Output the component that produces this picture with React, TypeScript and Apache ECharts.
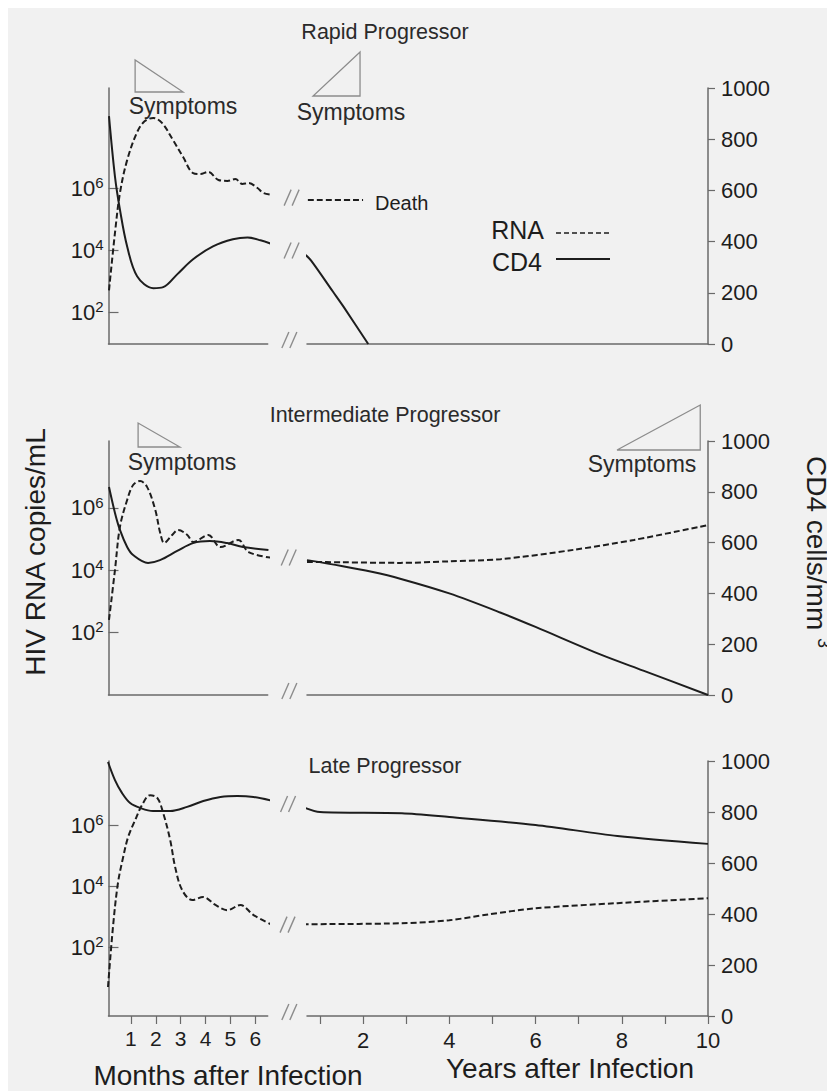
import { useEffect, useRef } from "react";
import * as echarts from "echarts";

// ---------------- Tick values / labels ----------------
const monthTicks = [1, 2, 3, 4, 5, 6];
const yearTicks = [1, 2, 3, 4, 5, 6, 7, 8, 9, 10];
const yearTickLabels = [2, 4, 6, 8, 10];
const rnaExponentTicks = [2, 4, 6]; // 10^2, 10^4, 10^6 copies/mL
const cd4Min = 0;
const cd4Max = 1000;
const cd4Step = 200;

const panelTitles = ["Rapid Progressor", "Intermediate Progressor", "Late Progressor"];

// ---------------- Rapid progressor ----------------
// months after infection (left part); RNA as log10 copies/mL, CD4 as cells/mm3
const rapidRnaMonth = [0.12, 0.36, 0.56, 0.85, 1.25, 1.55, 1.9, 2.25, 2.69, 3.1, 3.5, 3.79, 4.11, 4.52, 4.88, 5.2, 5.48, 5.73, 6.09, 6.33, 6.81];
const rapidRnaMonthLog = [2.7, 4.55, 5.84, 6.9, 7.8, 8.15, 8.26, 8.1, 7.55, 7.0, 6.48, 6.45, 6.52, 6.26, 6.23, 6.29, 6.13, 6.16, 6.0, 5.84, 5.77];
const rapidCd4Month = [0.12, 0.36, 0.56, 0.85, 1.25, 1.9, 2.3, 2.86, 3.5, 4.3, 5.1, 5.69, 6.21, 6.93];
const rapidCd4MonthCells = [890, 654, 525, 381, 265, 218, 222, 272, 331, 381, 409, 416, 405, 381];
// years after infection (right part)
const rapidRnaYear = [0.72, 2.0];
const rapidRnaYearLog = [5.61, 5.61];
const rapidCd4Year = [0.65, 0.8, 1.3, 1.55, 2.12];
const rapidCd4YearCells = [350, 325, 205, 145, 0];

// ---------------- Intermediate progressor ----------------
const interRnaMonth = [0.12, 0.36, 0.56, 0.85, 1.09, 1.37, 1.65, 1.98, 2.18, 2.34, 2.66, 2.9, 3.27, 3.51, 4.11, 4.6, 5.32, 5.73, 6.69];
const interRnaMonthLog = [2.39, 4.0, 5.39, 6.26, 6.74, 6.87, 6.68, 5.94, 5.19, 4.87, 5.13, 5.29, 5.13, 4.9, 5.13, 4.74, 4.97, 4.58, 4.39];
const interCd4Month = [0.12, 0.36, 0.56, 0.85, 1.09, 1.69, 2.17, 2.86, 3.5, 4.18, 4.87, 5.51, 6.53];
const interCd4MonthCells = [819, 717, 650, 583, 551, 520, 531, 567, 598, 606, 598, 583, 571];
const interRnaYear = [0.7, 1.5, 2.86, 4.0, 5.19, 6.88, 8.28, 10];
const interRnaYearLog = [4.26, 4.25, 4.23, 4.28, 4.35, 4.65, 4.97, 5.45];
const interCd4Year = [0.7, 1.5, 2.2, 2.86, 4.0, 5.18, 6.0, 7.5, 8.5, 10];
const interCd4YearCells = [531, 508, 485, 458, 400, 325, 268, 160, 96, 0];

// ---------------- Late progressor ----------------
const lateRnaMonth = [0.08, 0.28, 0.48, 0.69, 0.89, 1.17, 1.45, 1.77, 2.06, 2.3, 2.58, 2.78, 3.06, 3.47, 3.91, 4.4, 4.88, 5.4, 5.93, 6.69];
const lateRnaMonthLog = [0.69, 2.66, 4.1, 4.95, 5.61, 6.16, 6.66, 6.98, 6.89, 6.39, 5.51, 4.62, 3.87, 3.54, 3.64, 3.38, 3.21, 3.38, 3.05, 2.72];
const lateCd4Month = [0.08, 0.36, 0.64, 0.97, 1.37, 1.89, 2.58, 3.26, 3.91, 4.6, 5.28, 5.93, 6.73];
const lateCd4MonthCells = [996, 925, 875, 835, 816, 804, 804, 820, 843, 859, 863, 859, 843];
const lateRnaYear = [0.6, 2.9, 4.0, 4.9, 6.0, 7.9, 10];
const lateRnaYearLog = [2.75, 2.78, 2.88, 3.07, 3.27, 3.44, 3.6];
const lateCd4Year = [0.6, 1.0, 2.9, 4.0, 6.0, 7.9, 10];
const lateCd4YearCells = [820, 800, 795, 780, 749, 706, 675];

// Symptom periods (in axis units) per panel
const symptomPeriods = [
  { panel: 0, part: "month", from: 1.17, to: 3.1, shape: "fall" },
  { panel: 0, part: "year", from: 0.84, to: 1.93, shape: "rise" },
  { panel: 1, part: "month", from: 1.29, to: 2.97, shape: "fall" },
  { panel: 1, part: "year", from: 7.89, to: 9.82, shape: "rise" },
];

// ---------------- Layout (pixels) ----------------
const FONT = '"Liberation Sans", Arial, Helvetica, sans-serif';
const INK = "#1d1d1d";
const AXIS_C = "#6a6a6a";
const FAINT = "#8c8c8c";
const BG = "#f1f1f1";

const PANEL_LAYOUT = [
  { top: 80, height: 256, rnaMin: 0.968, rnaMax: 9.226, titleY: 24 },
  { top: 433, height: 254, rnaMin: -0.03, rnaMax: 8.16, titleY: 407 },
  { top: 753, height: 255, rnaMin: -0.26, rnaMax: 8.1, titleY: 758 },
];
const LEFT_PART = { left: 100.5, width: 159.2, min: 0.1, max: 6.5 };
const RIGHT_PART = { left: 299, width: 401, min: 0.7, max: 10 };
const SYMPTOM_LAYOUT = [
  { yTop: 52, yBottom: 84, labelX: 175, labelY: 98 },
  { yTop: 44, yBottom: 88, labelX: 343, labelY: 104 },
  { yTop: 415, yBottom: 439, labelX: 174, labelY: 454 },
  { yTop: 397, yBottom: 442, labelX: 634, labelY: 456 },
];

const panels = [
  {
    rnaM: [rapidRnaMonth, rapidRnaMonthLog], cd4M: [rapidCd4Month, rapidCd4MonthCells],
    rnaY: [rapidRnaYear, rapidRnaYearLog], cd4Y: [rapidCd4Year, rapidCd4YearCells],
    breaks: ["rna", "cd4"],
  },
  {
    rnaM: [interRnaMonth, interRnaMonthLog], cd4M: [interCd4Month, interCd4MonthCells],
    rnaY: [interRnaYear, interRnaYearLog], cd4Y: [interCd4Year, interCd4YearCells],
    breaks: ["both"],
  },
  {
    rnaM: [lateRnaMonth, lateRnaMonthLog], cd4M: [lateCd4Month, lateCd4MonthCells],
    rnaY: [lateRnaYear, lateRnaYearLog], cd4Y: [lateCd4Year, lateCd4YearCells],
    breaks: ["rna", "cd4"],
  },
];

const pairs = (xs: number[], ys: number[]) => xs.map((x, i) => [x, ys[i]]);

function buildOption() {
  const grid: any[] = [];
  const xAxis: any[] = [];
  const yAxis: any[] = [];
  const series: any[] = [];
  const textStyle = { fontFamily: FONT, color: INK };

  panels.forEach((pd, p) => {
    const L = PANEL_LAYOUT[p];
    const isLast = p === panels.length - 1;
    grid.push({ left: LEFT_PART.left, width: LEFT_PART.width, top: L.top, height: L.height, outerBoundsMode: "none" });
    grid.push({ left: RIGHT_PART.left, width: RIGHT_PART.width, top: L.top, height: L.height, outerBoundsMode: "none" });

    const axisLine = { show: true, onZero: false, lineStyle: { color: AXIS_C, width: 1.5 } };
    xAxis.push({
      type: "value", gridIndex: 2 * p, min: LEFT_PART.min, max: LEFT_PART.max,
      axisLine,
      axisTick: { show: isLast, customValues: monthTicks, length: 8, lineStyle: { color: AXIS_C, width: 1.2 } },
      axisLabel: { show: isLast, customValues: monthTicks, margin: 12, fontSize: 21, ...textStyle },
      splitLine: { show: false },
    });
    xAxis.push({
      type: "value", gridIndex: 2 * p + 1, min: RIGHT_PART.min, max: RIGHT_PART.max,
      axisLine,
      axisTick: { show: isLast, customValues: yearTicks, length: 8, lineStyle: { color: AXIS_C, width: 1.2 } },
      axisLabel: { show: isLast, customValues: yearTickLabels, margin: 13, fontSize: 22, ...textStyle },
      splitLine: { show: false },
    });

    // left grid: RNA (shown, left), CD4 (hidden)
    yAxis.push({
      type: "value", gridIndex: 2 * p, min: L.rnaMin, max: L.rnaMax, position: "left",
      axisLine,
      axisTick: { show: true, inside: true, length: 10, customValues: rnaExponentTicks, lineStyle: { color: AXIS_C, width: 1.2 } },
      axisLabel: {
        customValues: rnaExponentTicks, margin: 5,
        formatter: (v: number) => `{b|10}{s|${v}}`,
        rich: {
          b: { fontSize: 22, fontFamily: FONT, color: INK },
          s: { fontSize: 15, fontFamily: FONT, color: INK, padding: [0, 0, 11, 0] },
        },
      },
      splitLine: { show: false },
    });
    yAxis.push({ type: "value", gridIndex: 2 * p, min: cd4Min, max: cd4Max, show: false });
    // right grid: RNA (hidden), CD4 (shown, right)
    yAxis.push({ type: "value", gridIndex: 2 * p + 1, min: L.rnaMin, max: L.rnaMax, show: false });
    yAxis.push({
      type: "value", gridIndex: 2 * p + 1, min: cd4Min, max: cd4Max, interval: cd4Step, position: "right",
      axisLine,
      axisTick: { show: true, length: 7, lineStyle: { color: AXIS_C, width: 1.2 } },
      axisLabel: { margin: 13, fontSize: 22, formatter: (v: number) => String(v), ...textStyle },
      splitLine: { show: false },
    });

    const line = (xi: number, yi: number, data: number[][], dashed: boolean, smooth: number) => ({
      type: "line", xAxisIndex: xi, yAxisIndex: yi, data,
      smooth, symbol: "none", showSymbol: false, clip: false, silent: true, z: 3,
      lineStyle: { color: INK, width: 2, type: dashed ? [6, 3] : "solid" },
    });
    series.push(line(2 * p, 4 * p, pairs(pd.rnaM[0], pd.rnaM[1]), true, 0.35));
    series.push(line(2 * p, 4 * p + 1, pairs(pd.cd4M[0], pd.cd4M[1]), false, 0.35));
    series.push(line(2 * p + 1, 4 * p + 2, pairs(pd.rnaY[0], pd.rnaY[1]), true, 0.3));
    series.push(line(2 * p + 1, 4 * p + 3, pairs(pd.cd4Y[0], pd.cd4Y[1]), false, 0.3));
  });

  return {
    animation: false,
    backgroundColor: BG,
    grid, xAxis, yAxis, series,
  };
}

function text(x: number, y: number, t: string, fontSize: number, extra: any = {}) {
  return {
    type: "text", x, y, silent: true, z: 10, ...extra,
    style: {
      text: t, fontSize, fontFamily: FONT, fill: INK,
      align: "center", verticalAlign: "middle", ...(extra.style || {}),
    },
  };
}

function breakMark(cx: number, cy: number) {
  return [-4, 4].map((dx) => ({
    type: "line", silent: true, z: 10,
    shape: { x1: cx + dx - 3.5, y1: cy + 8, x2: cx + dx + 3.5, y2: cy - 8 },
    style: { stroke: FAINT, lineWidth: 1.4 },
  }));
}

function buildGraphics(chart: echarts.ECharts) {
  const g: any[] = [];
  const toPx = (seriesIndex: number, pt: number[]) => chart.convertToPixel({ seriesIndex }, pt) as number[];

  // Titles
  panelTitles.forEach((t, p) => g.push(text(LEFT_PART.left + 276.5, PANEL_LAYOUT[p].titleY, t, 21.5, { style: { fill: "#2a2a2a" } })));

  // Break marks
  panels.forEach((pd, p) => {
    const L = PANEL_LAYOUT[p];
    const gapX = (LEFT_PART.left + LEFT_PART.width + RIGHT_PART.left) / 2;
    g.push(...breakMark(gapX + 2, L.top + L.height - 4));
    const markFor = (key: string) => {
      const arrs = key === "rna" ? [pd.rnaM, pd.rnaY, 0, 2] : [pd.cd4M, pd.cd4Y, 1, 3];
      const [mArr, yArr, si, sj] = arrs as any;
      const a = toPx(4 * p + si, [mArr[0][mArr[0].length - 1], mArr[1][mArr[1].length - 1]]);
      const b = toPx(4 * p + sj, [yArr[0][0], yArr[1][0]]);
      return [(a[0] + b[0]) / 2, (a[1] + b[1]) / 2];
    };
    pd.breaks.forEach((k) => {
      if (k === "both") {
        const r = markFor("rna");
        const c = markFor("cd4");
        g.push(...breakMark((r[0] + c[0]) / 2, (r[1] + c[1]) / 2));
      } else {
        const m = markFor(k);
        g.push(...breakMark(m[0], m[1]));
      }
    });
  });

  // Symptom triangles
  symptomPeriods.forEach((s, i) => {
    const lay = SYMPTOM_LAYOUT[i];
    const xi = 2 * s.panel + (s.part === "month" ? 0 : 1);
    const x0 = chart.convertToPixel({ xAxisIndex: xi }, s.from) as number;
    const x1 = chart.convertToPixel({ xAxisIndex: xi }, s.to) as number;
    const pts = s.shape === "fall"
      ? [[x0, lay.yTop], [x0, lay.yBottom], [x1, lay.yBottom]]
      : [[x0, lay.yBottom], [x1, lay.yBottom], [x1, lay.yTop]];
    g.push({
      type: "polygon", silent: true, z: 10,
      shape: { points: pts },
      style: { fill: "none", stroke: FAINT, lineWidth: 1.3 },
    });
    g.push(text(lay.labelX, lay.labelY, "Symptoms", 23, { style: { fill: "#2a2a2a" } }));
  });

  // "Death" label at the end of the rapid RNA curve
  const death = toPx(2, [rapidRnaYear[rapidRnaYear.length - 1], rapidRnaYearLog[rapidRnaYearLog.length - 1]]);
  g.push(text(death[0] + 12, death[1] + 3, "Death", 20, { style: { align: "left" } }));

  // Legend
  g.push(text(536, 222, "RNA", 25, { style: { align: "right" } }));
  g.push({ type: "line", silent: true, z: 10, shape: { x1: 548, y1: 225, x2: 602, y2: 225 }, style: { stroke: INK, lineWidth: 1.6, lineDash: [5, 3] } });
  g.push(text(534, 254, "CD4", 25, { style: { align: "right" } }));
  g.push({ type: "line", silent: true, z: 10, shape: { x1: 548, y1: 251, x2: 602, y2: 251 }, style: { stroke: INK, lineWidth: 2 } });

  // Axis titles
  g.push(text(220, 1067, "Months after Infection", 28));
  g.push(text(562, 1060, "Years after Infection", 28));
  g.push(text(27, 544, "HIV RNA copies/mL", 28, { rotation: Math.PI / 2 }));
  g.push({
    type: "text", x: 808, y: 544, rotation: -Math.PI / 2, silent: true, z: 10,
    style: {
      text: "{n|CD4 cells/mm }{s|3}", align: "center", verticalAlign: "middle", fill: INK,
      rich: {
        n: { fontSize: 28, fontFamily: FONT, fill: INK },
        s: { fontSize: 18, fontFamily: FONT, fill: INK, padding: [0, 0, 16, 0] },
      },
    },
  });
  return g;
}

export default function App() {
  const ref = useRef<HTMLDivElement>(null);
  useEffect(() => {
    if (!ref.current) return;
    const chart = echarts.init(ref.current, undefined, { renderer: "svg" });
    chart.setOption(buildOption() as any);
    chart.setOption({ graphic: buildGraphics(chart) } as any);
    return () => chart.dispose();
  }, []);
  return <div ref={ref} style={{ width: 827, height: 1083 }} />;
}
